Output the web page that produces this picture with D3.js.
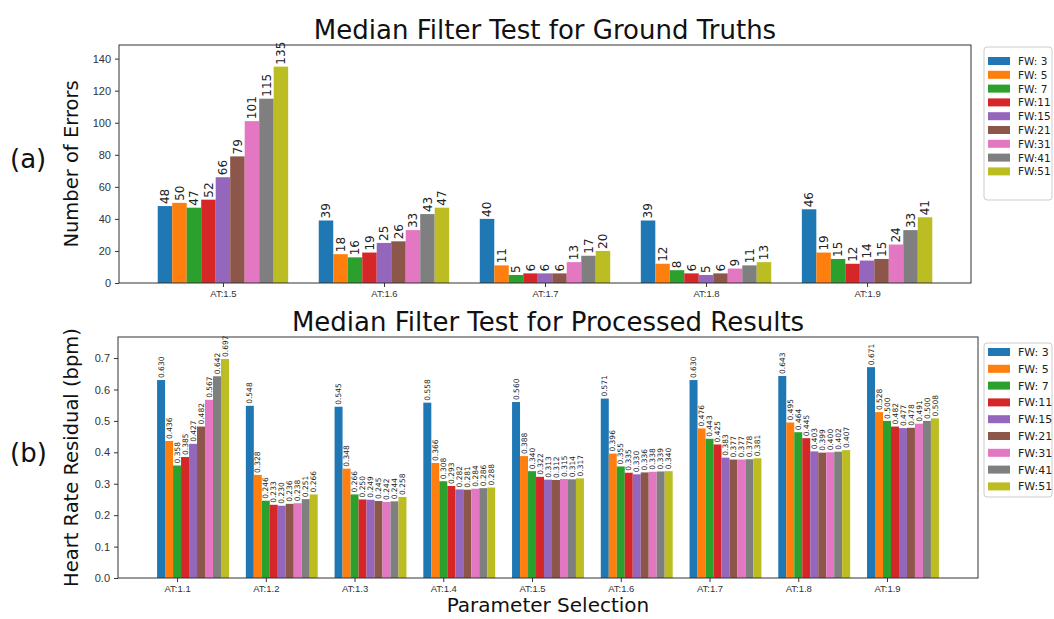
<!DOCTYPE html>
<html><head><meta charset="utf-8">
<script src="https://cdn.jsdelivr.net/npm/d3@7"></script>
<style>body{margin:0;background:#fff;} svg{display:block;font-family:"DejaVu Sans",sans-serif;}</style>
</head><body>
<svg id="c" width="1054" height="619"></svg>
<script>
const seriesNames = ["FW: 3","FW: 5","FW: 7","FW:11","FW:15","FW:21","FW:31","FW:41","FW:51"];
const colors = ["#1f77b4","#ff7f0e","#2ca02c","#d62728","#9467bd","#8c564b","#e377c2","#7f7f7f","#bcbd22"];
const catsA = ["AT:1.5","AT:1.6","AT:1.7","AT:1.8","AT:1.9"];
const valsA = [
  [48,50,47,52,66,79,101,115,135],
  [39,18,16,19,25,26,33,43,47],
  [40,11,5,6,6,6,13,17,20],
  [39,12,8,6,5,6,9,11,13],
  [46,19,15,12,14,15,24,33,41]
];
const ticksA = [0,20,40,60,80,100,120,140];
const catsB = ["AT:1.1","AT:1.2","AT:1.3","AT:1.4","AT:1.5","AT:1.6","AT:1.7","AT:1.8","AT:1.9"];
const valsB = [
  [0.630,0.436,0.358,0.385,0.427,0.482,0.567,0.642,0.697],
  [0.548,0.328,0.246,0.233,0.230,0.236,0.238,0.251,0.266],
  [0.545,0.348,0.266,0.250,0.249,0.245,0.242,0.244,0.258],
  [0.558,0.366,0.308,0.293,0.282,0.281,0.284,0.286,0.288],
  [0.560,0.388,0.340,0.322,0.313,0.312,0.315,0.314,0.317],
  [0.571,0.396,0.355,0.335,0.330,0.336,0.338,0.339,0.340],
  [0.630,0.476,0.443,0.425,0.383,0.377,0.377,0.378,0.381],
  [0.643,0.495,0.464,0.445,0.403,0.399,0.400,0.402,0.407],
  [0.671,0.528,0.500,0.482,0.477,0.478,0.491,0.500,0.508]
];
const ticksB = [0,0.1,0.2,0.3,0.4,0.5,0.6,0.7];

const svg = d3.select("#c");

function panel(o){
  const g = svg.append("g");
  const n = o.cats.length, k = o.names.length, w = o.barW;
  const lo = -w/2, hi = (n-1) + (k-1)*w + w/2;
  const m = (hi-lo)*0.05;
  const x = d3.scaleLinear().domain([lo-m, hi+m]).range([o.left, o.right]);
  const y = d3.scaleLinear().domain([0, o.ymax]).range([o.bottom, o.top]);
  o.vals.forEach((row,i)=>{
    row.forEach((v,j)=>{
      const cx = i + j*w;
      g.append("rect").attr("x", x(cx-w/2)).attr("width", x(cx+w/2)-x(cx-w/2))
        .attr("y", y(v)).attr("height", y(0)-y(v)).attr("fill", o.colors[j]);
      const tx = x(cx), ty = y(v) - 2;
      g.append("text").attr("transform",`translate(${tx+o.labelFs*0.35},${ty}) rotate(-90)`)
        .attr("font-size", o.labelFs).attr("fill","#222").text(o.fmt(v));
    });
  });
  g.append("rect").attr("x",o.left).attr("y",o.top).attr("width",o.right-o.left).attr("height",o.bottom-o.top)
    .attr("fill","none").attr("stroke","#333").attr("stroke-width",1);
  const ya = d3.axisLeft(y).tickValues(o.yticks).tickFormat(o.yfmt).tickSize(4).tickPadding(4);
  const yg = g.append("g").attr("transform",`translate(${o.left},0)`).call(ya);
  yg.select(".domain").remove();
  yg.selectAll("text").attr("font-size",11).attr("fill","#333");
  yg.selectAll("line").attr("stroke","#333");
  const tickPos = o.cats.map((c,i)=> i + o.tickIdx*w);
  const xa = d3.axisBottom(x).tickValues(tickPos).tickFormat((d,i)=>o.cats[i]).tickSize(4).tickPadding(3);
  const xg = g.append("g").attr("transform",`translate(0,${o.bottom})`).call(xa);
  xg.select(".domain").remove();
  xg.selectAll("text").attr("font-size",9.5).attr("fill","#333");
  xg.selectAll("line").attr("stroke","#333");
  svg.append("text").attr("x",(o.left+o.right)/2).attr("y",o.titleY).attr("text-anchor","middle")
    .attr("font-size",26).attr("fill","#111").text(o.title);
  svg.append("text").attr("transform",`translate(${o.ylabX},${(o.top+o.bottom)/2}) rotate(-90)`)
    .attr("text-anchor","middle").attr("font-size",19.5).attr("fill","#111").text(o.ylabel);
  svg.append("text").attr("x",10).attr("y",o.letterY).attr("font-size",26).attr("fill","#111").text(o.letter);
  const L = o.legend;
  svg.append("rect").attr("x",L.x).attr("y",L.y).attr("width",L.w).attr("height",L.h)
    .attr("fill","#fff").attr("stroke","#ccc").attr("rx",3);
  o.names.forEach((nm,j)=>{
    const yy = L.y0 + j*L.dy;
    svg.append("rect").attr("x",L.x+4).attr("y",yy-4).attr("width",22).attr("height",8).attr("fill",o.colors[j]);
    svg.append("text").attr("x",L.x+34).attr("y",yy+4).attr("font-size",L.fs).attr("fill","#222").text(nm);
  });
}

panel({cats:catsA, vals:valsA, names:seriesNames, colors, barW:0.09, tickIdx:4,
  left:119, right:971, top:45, bottom:283, ymax:148.5, yticks:ticksA, yfmt:d3.format("d"),
  fmt:d3.format("d"), labelFs:12, title:"Median Filter Test for Ground Truths", titleY:39,
  ylabel:"Number of Errors", ylabX:78, letter:"(a)", letterY:168,
  legend:{x:984,y:47,w:68,h:153,y0:61,dy:13.8,fs:10.5}});

panel({cats:catsB, vals:valsB, names:seriesNames, colors, barW:0.09, tickIdx:2,
  left:118, right:978, top:337, bottom:578, ymax:0.767, yticks:ticksB, yfmt:d3.format(".1f"),
  fmt:d3.format(".3f"), labelFs:7.5, title:"Median Filter Test for Processed Results", titleY:331,
  ylabel:"Heart Rate Residual (bpm)", ylabX:78, letter:"(b)", letterY:462,
  legend:{x:984,y:343,w:68,h:154,y0:352,dy:16.8,fs:11}});

svg.append("text").attr("x",548).attr("y",612).attr("text-anchor","middle").attr("font-size",20)
  .attr("fill","#111").text("Parameter Selection");
</script>
</body></html>
